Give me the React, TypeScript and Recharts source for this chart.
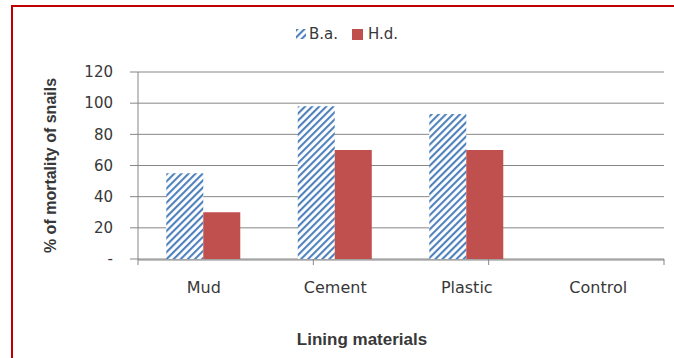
import { Bar, BarChart, CartesianGrid, Legend, XAxis, YAxis } from "recharts";

// Lining materials and mortality (%) per snail species
const materials = ["Mud", "Cement", "Plastic", "Control"];
const baMortality = [55, 98, 93, 0];
const hdMortality = [30, 70, 70, 0];
const yTicks = [0, 20, 40, 60, 80, 100, 120];
const boundaryTicks = [0, 1, 2, 3, 4];

const data = materials.map((name, i) => ({
  name,
  ba: baMortality[i],
  hd: hdMortality[i],
}));

const BLUE = "#4f81bd";
const RED = "#c0504d";
const GRID = "#868686";
const TEXT = "#383838";
const TICK_FONT = "DejaVu Sans";
const TITLE_FONT = "Liberation Sans";

const renderLegend = () => (
  <div
    style={{
      display: "flex",
      alignItems: "center",
      fontFamily: TICK_FONT,
      fontSize: 15,
      color: TEXT,
      whiteSpace: "nowrap",
    }}
  >
    <svg width={10} height={10} style={{ marginRight: 3 }}>
      <rect width={10} height={10} fill="url(#hatch)" />
    </svg>
    <span style={{ marginRight: 14 }}>B.a.</span>
    <svg width={11} height={11} style={{ marginRight: 5 }}>
      <rect width={11} height={11} fill={RED} />
    </svg>
    <span>H.d.</span>
  </div>
);

export default function App() {
  return (
    <div
      style={{
        position: "absolute",
        left: 0,
        top: 0,
        width: 674,
        height: 358,
        overflow: "hidden",
        background: "#fff",
      }}
    >
      <div
        style={{
          position: "absolute",
          left: 11,
          top: 5,
          width: 720,
          height: 420,
          border: "2px solid #c00000",
        }}
      />
      <BarChart
        width={674}
        height={358}
        data={data}
        margin={{ top: 72, right: 10, bottom: 0, left: 0 }}
        barCategoryGap="21.5%"
        barGap={0}
      >
        <defs>
          <pattern
            id="hatch"
            patternUnits="userSpaceOnUse"
            width={5}
            height={5}
            patternTransform="rotate(45)"
          >
            <rect width={5} height={5} fill="#fff" />
            <rect width={2.1} height={5} fill={BLUE} />
          </pattern>
        </defs>
        <CartesianGrid vertical={false} stroke={GRID} />
        <XAxis
          xAxisId="b"
          dataKey="name"
          height={98}
          tickLine={false}
          tickSize={0}
          tickMargin={22}
          axisLine={{ stroke: GRID }}
          tick={{ fontFamily: TICK_FONT, fontSize: 16, fill: TEXT }}
          label={{
            content: (p: any) => (
              <text
                x={p.viewBox.x + p.viewBox.width / 2 - 39}
                y={p.viewBox.y + p.viewBox.height - 13}
                textAnchor="middle"
                fontFamily={TITLE_FONT}
                fontWeight="bold"
                fontSize={17}
                fill={TEXT}
              >
                Lining materials
              </text>
            ),
          }}
        />
        {/* short ticks on the category boundaries */}
        <XAxis
          xAxisId="a"
          type="number"
          domain={[0, 4]}
          allowDataOverflow
          ticks={boundaryTicks}
          tickFormatter={() => ""}
          tickSize={6}
          tickLine={{ stroke: GRID }}
          axisLine={false}
          height={1}
        />
        <YAxis
          width={138}
          domain={[0, 120]}
          ticks={yTicks}
          interval={0}
          tickSize={8}
          tickMargin={17}
          tickLine={{ stroke: GRID }}
          axisLine={{ stroke: GRID }}
          tickFormatter={(v) => (v === 0 ? "-" : `${v}`)}
          tick={{ fontFamily: TICK_FONT, fontSize: 15, fill: TEXT }}
          label={{
            value: "% of mortality of snails",
            angle: -90,
            position: "insideLeft",
            offset: 50,
            style: {
              textAnchor: "middle",
              fontFamily: TITLE_FONT,
              fontWeight: "bold",
              fontSize: 16,
              fill: TEXT,
            },
          }}
        />
        <Legend
          layout="horizontal"
          verticalAlign="middle"
          content={renderLegend}
          wrapperStyle={{ top: 25, left: 296, width: 200 }}
        />
        <Bar
          xAxisId="b"
          dataKey="ba"
          name="B.a."
          fill="url(#hatch)"
          isAnimationActive={false}
        />
        <Bar
          xAxisId="b"
          dataKey="hd"
          name="H.d."
          fill={RED}
          isAnimationActive={false}
        />
      </BarChart>
    </div>
  );
}
